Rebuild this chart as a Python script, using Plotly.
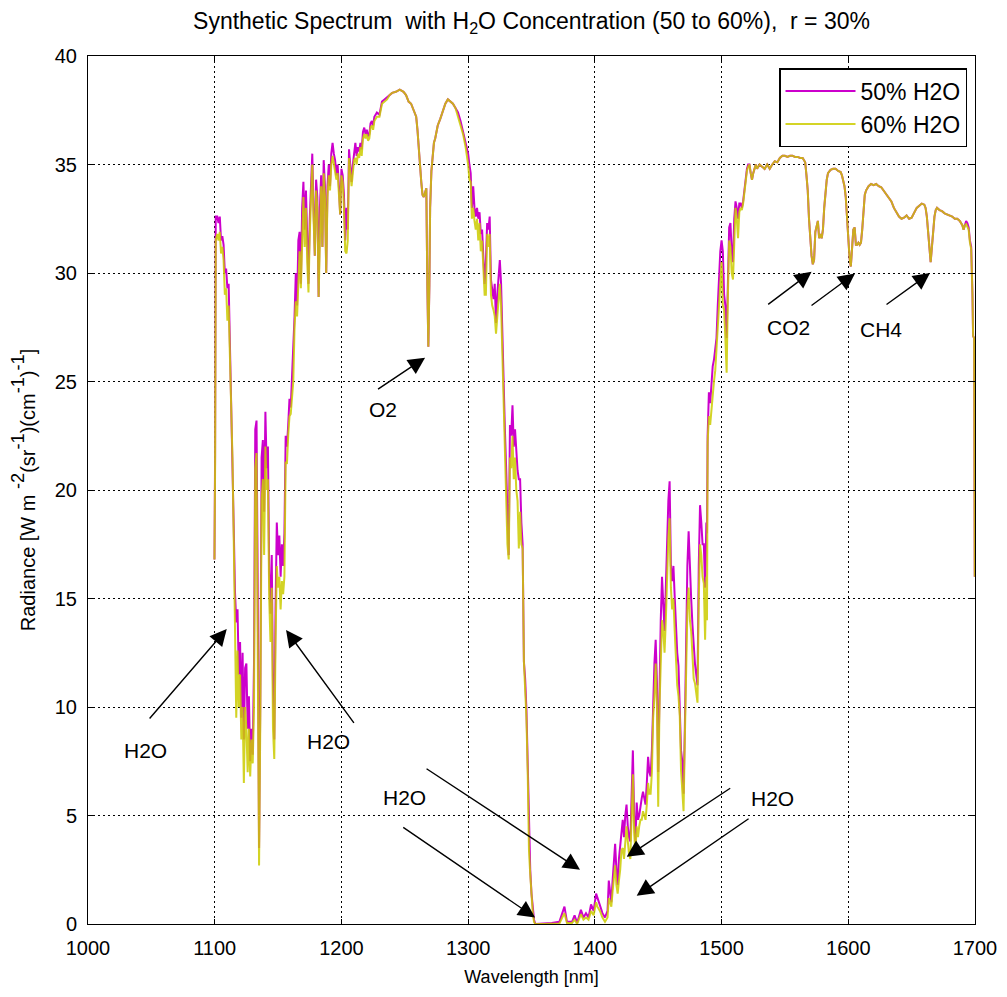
import plotly.graph_objects as go

# wavelength [nm]
wl = [
    1099.8, 1100.3, 1100.8, 1102, 1103, 1104, 1105, 1106, 1107, 1108,
    1109, 1110, 1111, 1112, 1113, 1114, 1115, 1116, 1117, 1118,
    1119, 1120, 1121, 1122, 1123, 1124, 1125, 1126, 1127, 1128,
    1129, 1130, 1131, 1132, 1133, 1134, 1135, 1136, 1137, 1138,
    1139, 1140, 1141, 1142, 1143, 1144, 1145, 1146, 1147, 1148,
    1149, 1150, 1151, 1152, 1153, 1154, 1155, 1156, 1157, 1158,
    1159, 1160, 1161, 1162, 1163, 1164, 1165, 1166, 1167, 1168,
    1169, 1170, 1171, 1172, 1173, 1174, 1175, 1176, 1177, 1178,
    1179, 1180, 1181, 1182, 1183, 1184, 1185, 1186, 1187, 1188,
    1189, 1190, 1191, 1192, 1193, 1194, 1195, 1196, 1197, 1198,
    1199, 1200, 1201, 1202, 1203, 1204, 1205, 1206, 1207, 1208,
    1209, 1210, 1211, 1212, 1213, 1214, 1215, 1216, 1217, 1218,
    1219, 1220, 1221, 1222, 1223, 1224, 1225, 1226, 1228, 1230,
    1232, 1234, 1236, 1238, 1240, 1243, 1246, 1249, 1251, 1253,
    1255, 1257, 1259, 1260, 1261, 1262, 1263, 1264, 1265, 1266,
    1267, 1267.8, 1268.6, 1269.4, 1270, 1271, 1272, 1273, 1274, 1276,
    1278, 1280, 1282, 1284, 1286, 1288, 1290, 1292, 1294, 1296,
    1298, 1300, 1301, 1302, 1303, 1304, 1305, 1306, 1307, 1308,
    1309, 1310, 1311, 1312, 1313, 1314, 1315, 1316, 1317, 1318,
    1319, 1320, 1321, 1322, 1323, 1324, 1325, 1326, 1327, 1328,
    1329, 1330, 1331, 1332, 1333, 1334, 1335, 1336, 1337, 1338,
    1339, 1340, 1341, 1342, 1343, 1344, 1345, 1346, 1347, 1348,
    1349, 1350, 1351, 1352, 1353, 1360, 1366, 1372, 1376, 1378,
    1382, 1384, 1386, 1389, 1391, 1393, 1395, 1397, 1399, 1401,
    1402, 1404, 1406, 1408, 1410, 1411, 1412, 1413, 1414, 1415,
    1416, 1417, 1418, 1419, 1420, 1421, 1422, 1423, 1424, 1425,
    1426, 1427, 1428, 1429, 1430, 1431, 1432, 1433, 1434, 1435,
    1436, 1437, 1438, 1439, 1440, 1441, 1442, 1443, 1444, 1445,
    1446, 1447, 1448, 1449, 1450, 1451, 1452, 1453, 1454, 1455,
    1456, 1457, 1458, 1459, 1460, 1461, 1462, 1463, 1464, 1465,
    1466, 1467, 1468, 1469, 1470, 1471, 1472, 1473, 1474, 1475,
    1476, 1477, 1478, 1479, 1480, 1481, 1482, 1483, 1484, 1485,
    1486, 1487, 1488, 1488.5, 1489, 1490, 1491, 1492, 1493, 1494,
    1495, 1496, 1497, 1498, 1499, 1500, 1501, 1502, 1503, 1504,
    1505, 1506, 1507, 1508, 1509, 1510, 1511, 1512, 1513, 1514,
    1515, 1516, 1517, 1518, 1519, 1520, 1521, 1522, 1523, 1524,
    1525, 1526, 1527, 1528, 1529, 1530, 1532, 1534, 1536, 1538,
    1540, 1542, 1544, 1546, 1548, 1550, 1552, 1554, 1556, 1558,
    1560, 1562, 1564, 1566, 1567, 1568, 1569, 1570, 1571, 1572,
    1573, 1574, 1575, 1576, 1577, 1578, 1579, 1580, 1581, 1582,
    1583, 1584, 1586, 1588, 1590, 1592, 1594, 1595, 1596, 1597,
    1598, 1599, 1600, 1601, 1602, 1603, 1604, 1605, 1606, 1607,
    1608, 1609, 1610, 1611, 1612, 1613, 1614, 1616, 1618, 1620,
    1622, 1624, 1626, 1628, 1630, 1632, 1634, 1636, 1638, 1640,
    1642, 1644, 1646, 1648, 1650, 1652, 1654, 1656, 1658, 1660,
    1661, 1662, 1663, 1664, 1665, 1666, 1667, 1668, 1669, 1670,
    1672, 1674, 1676, 1678, 1680, 1682, 1684, 1686, 1688, 1690,
    1691, 1692, 1693, 1694, 1695, 1696, 1697, 1698, 1698.5, 1699.3, 1699.8,
]

# radiance, 50% H2O
rad_50 = [
    16.8, 21.6, 32.6, 32.6, 32.3, 32.6, 31.5, 31.7, 31.3, 30.0,
    30.2, 29.3, 29.5, 27.0, 24.7, 22.0, 18.3, 15.3, 13.9, 14.5,
    11.5, 13.0, 9.5, 12.5, 8.5, 11.8, 12.0, 9.0, 10.5, 7.5,
    9.0, 7.8, 12.0, 22.8, 23.2, 15.0, 3.5, 10.5, 21.5, 22.3,
    19.0, 23.6, 21.0, 22.0, 16.2, 14.3, 17.0, 11.0, 8.5, 14.5,
    18.5, 17.0, 17.9, 16.0, 17.5, 16.5, 18.0, 22.5, 22.0, 23.0,
    24.2, 23.8, 25.2, 26.0, 28.0, 30.0, 28.5, 31.5, 31.9, 29.5,
    33.0, 34.2, 32.0, 33.8, 31.0, 29.5, 32.5, 34.0, 35.5, 33.0,
    30.8, 34.3, 33.5, 28.9, 33.0, 34.5, 31.2, 35.2, 34.0, 30.0,
    34.0, 35.0, 34.0, 35.5, 36.0, 35.5, 35.2, 34.5, 35.0, 34.0,
    32.7, 34.8, 34.5, 33.6, 31.5, 33.0, 32.0, 35.7, 35.0, 34.2,
    35.0, 35.6, 36.0, 35.4, 35.8, 35.6, 36.0, 35.7, 36.5, 36.7,
    36.4, 36.6, 36.3, 36.4, 36.9, 37.0, 36.8, 37.2, 37.4, 37.3,
    37.9, 38.0, 38.1, 38.2, 38.3, 38.35, 38.45, 38.35, 38.2, 37.9,
    37.8, 37.5, 37.2, 36.6, 35.7, 34.9, 34.2, 33.6, 33.5, 33.7,
    33.9, 29.4, 26.6, 29.4, 33.0, 34.7, 35.6, 36.0, 36.2, 36.8,
    37.1, 37.5, 37.8, 38.0, 37.9, 37.8, 37.6, 37.4, 37.0, 36.5,
    36.0, 35.5, 35.0, 34.6, 33.0, 34.0, 33.0, 32.6, 33.0, 32.5,
    32.8, 31.8, 32.0, 30.7, 29.5, 30.5, 32.3, 32.0, 32.6, 29.7,
    29.2, 28.8, 29.5, 27.7, 29.0, 30.0, 30.6, 29.5, 27.0, 25.0,
    22.8, 21.0, 18.5, 17.0, 23.0, 22.5, 23.9, 22.0, 22.8, 21.5,
    20.9, 20.5, 20.5, 18.5, 17.5, 12.1, 11.3, 9.9, 7.2, 3.6,
    2.5, 1.4, 0.6, 0.2, 0.0, 0.02, 0.05, 0.1, 0.8, 0.1,
    0.1, 0.4, 0.05, 0.65, 0.3, 0.5, 0.3, 0.9, 0.6, 1.4,
    1.2, 0.9, 0.5, 0.3, 0.6, 2.0, 1.5, 1.0, 2.0, 3.2,
    3.7, 2.5, 1.8, 3.0, 3.5, 4.2, 4.8, 4.0, 5.0, 5.5,
    4.5, 4.0, 3.8, 6.0, 8.0, 5.0, 3.8, 5.6, 4.8, 5.0,
    5.5, 5.8, 6.1, 5.8, 5.5, 6.5, 7.7, 7.0, 6.8, 8.0,
    10.6, 12.0, 13.1, 11.1, 7.0, 11.1, 14.0, 16.0, 15.0, 13.5,
    15.5, 17.7, 19.5, 20.4, 16.5, 15.8, 16.5, 15.1, 13.5, 12.5,
    11.9, 10.0, 8.0, 7.5, 6.0, 9.0, 14.0, 16.5, 18.1, 16.0,
    15.0, 13.8, 12.6, 12.0, 11.5, 11.0, 16.5, 19.3, 18.5, 17.5,
    17.5, 15.5, 18.5, 18.0, 22.5, 24.5, 24.0, 25.0, 25.7, 26.0,
    26.5, 27.0, 28.5, 30.1, 31.0, 31.5, 31.0, 29.0, 28.5, 27.0,
    30.0, 32.1, 32.3, 31.0, 30.5, 32.5, 33.3, 33.0, 32.5, 33.2,
    33.2, 33.0, 33.3, 33.9, 34.4, 34.8, 35.0, 35.0, 34.6, 34.3,
    34.6, 34.8, 35.0, 34.8, 34.9, 35.0, 34.9, 34.8, 35.0, 34.8,
    35.0, 35.15, 35.1, 35.3, 35.4, 35.4, 35.35, 35.4, 35.4, 35.35,
    35.35, 35.3, 35.3, 35.1, 34.5, 33.8, 32.5, 31.6, 30.8, 30.4,
    30.6, 31.9, 32.2, 32.4, 31.6, 31.8, 31.6, 32.0, 33.0, 33.9,
    34.3, 34.6, 34.75, 34.8, 34.8, 34.7, 34.65, 34.5, 34.3, 34.0,
    33.5, 32.5, 31.5, 30.7, 30.3, 31.2, 32.0, 32.1, 31.3, 31.3,
    31.4, 31.3, 31.4, 32.0, 32.8, 33.6, 33.8, 34.0, 34.1, 34.05,
    34.1, 34.0, 33.95, 33.8, 33.6, 33.45, 33.3, 33.0, 32.8, 32.6,
    32.5, 32.55, 32.65, 32.5, 32.55, 32.8, 33.0, 33.1, 33.2, 33.15,
    33.0, 32.6, 32.0, 31.4, 30.5, 31.2, 32.0, 32.6, 32.9, 33.0,
    32.9, 32.85, 32.75, 32.7, 32.65, 32.6, 32.5, 32.5, 32.4, 32.2,
    32.0, 32.2, 32.4, 32.3, 32.1, 31.5, 31.2, 29.0, 27.1, 27.0, 16.0,
]

# radiance, 60% H2O
rad_60 = [
    16.8, 21.0, 31.5, 31.8, 31.5, 31.9, 30.9, 31.2, 30.6, 29.0,
    29.3, 27.8, 28.5, 26.0, 24.5, 21.5, 17.8, 14.5, 9.5, 12.6,
    10.0, 11.5, 8.5, 10.0, 6.5, 10.0, 9.0, 7.0, 9.0, 6.8,
    8.5, 7.4, 10.0, 21.0, 21.7, 12.0, 2.7, 9.5, 19.5, 20.5,
    17.0, 22.0, 20.0, 20.5, 15.0, 13.0, 15.5, 9.0, 7.6, 13.0,
    16.5, 15.5, 16.0, 14.5, 15.8, 15.2, 16.0, 21.3, 21.2, 22.5,
    23.4, 23.5, 24.5, 25.0, 27.5, 28.7, 28.0, 30.0, 31.0, 29.3,
    32.0, 33.5, 31.2, 33.0, 30.5, 29.1, 31.8, 33.5, 35.0, 32.5,
    30.8, 33.8, 33.0, 28.9, 32.5, 34.0, 31.2, 34.6, 33.5, 30.0,
    33.5, 34.5, 33.8, 35.0, 35.4, 35.0, 34.8, 34.3, 34.6, 33.5,
    32.7, 34.5, 34.2, 33.0, 31.0, 30.9, 31.5, 35.3, 34.5, 34.0,
    34.6, 35.2, 35.3, 35.0, 35.5, 35.3, 35.8, 35.4, 36.2, 36.4,
    36.2, 36.4, 36.1, 36.2, 36.7, 36.8, 36.6, 37.0, 37.2, 37.2,
    37.8, 37.9, 38.0, 38.2, 38.3, 38.35, 38.45, 38.35, 38.2, 37.9,
    37.8, 37.5, 37.2, 36.6, 35.7, 34.9, 34.2, 33.6, 33.5, 33.7,
    33.9, 29.4, 26.6, 29.4, 33.0, 34.7, 35.6, 36.0, 36.2, 36.8,
    37.1, 37.5, 37.8, 38.0, 37.9, 37.8, 37.6, 37.2, 36.8, 36.4,
    35.8, 35.0, 34.3, 34.2, 32.5, 33.0, 32.4, 32.0, 32.5, 31.5,
    32.3, 31.0, 31.5, 30.2, 29.0, 29.0, 31.8, 31.2, 31.8, 29.0,
    28.5, 28.3, 28.0, 27.2, 28.0, 28.5, 29.5, 28.5, 26.5, 24.5,
    22.2, 20.0, 17.5, 16.8, 21.5, 21.0, 22.5, 20.5, 21.5, 20.0,
    19.5, 17.3, 19.0, 17.5, 17.3, 12.1, 11.0, 9.5, 7.0, 3.4,
    2.3, 1.3, 0.5, 0.1, 0.0, 0.0, 0.0, 0.02, 0.5, 0.05,
    0.05, 0.2, 0.0, 0.45, 0.2, 0.3, 0.2, 0.6, 0.4, 1.0,
    0.8, 0.6, 0.3, 0.1, 0.3, 1.2, 1.0, 0.8, 1.5, 2.0,
    2.7, 1.8, 1.4, 2.0, 2.5, 3.4, 3.5, 3.0, 4.0, 4.5,
    3.8, 3.2, 3.0, 5.0, 6.9, 4.2, 3.3, 4.5, 4.0, 4.5,
    4.8, 4.8, 5.2, 5.0, 4.8, 5.5, 6.5, 6.0, 6.0, 7.0,
    9.5, 10.5, 12.0, 10.0, 5.4, 10.0, 12.5, 14.0, 13.5, 12.5,
    14.0, 16.5, 17.8, 18.7, 15.5, 14.5, 15.0, 13.5, 12.0, 11.0,
    10.5, 9.6, 7.1, 6.0, 5.2, 8.5, 12.0, 14.5, 15.5, 14.0,
    13.5, 12.5, 11.3, 11.1, 10.5, 10.2, 15.0, 17.5, 17.0, 16.0,
    15.7, 13.1, 16.0, 14.0, 22.2, 23.4, 23.0, 23.8, 24.5, 25.0,
    25.5, 26.5, 27.5, 28.3, 29.5, 30.5, 28.5, 28.3, 27.0, 25.4,
    29.0, 31.5, 31.2, 30.0, 29.7, 32.0, 33.0, 32.5, 31.6, 32.8,
    33.0, 32.9, 33.2, 33.7, 34.2, 34.7, 34.9, 35.0, 34.6, 34.3,
    34.6, 34.8, 35.0, 34.8, 34.9, 35.0, 34.9, 34.8, 35.0, 34.8,
    35.0, 35.15, 35.1, 35.3, 35.4, 35.4, 35.35, 35.4, 35.4, 35.35,
    35.35, 35.3, 35.3, 35.1, 34.5, 33.8, 32.5, 31.6, 30.8, 30.4,
    30.6, 31.9, 32.2, 32.4, 31.6, 31.8, 31.6, 32.0, 33.0, 33.9,
    34.3, 34.6, 34.75, 34.8, 34.8, 34.7, 34.65, 34.5, 34.3, 34.0,
    33.5, 32.5, 31.5, 30.7, 30.3, 31.2, 32.0, 32.1, 31.3, 31.3,
    31.4, 31.3, 31.4, 32.0, 32.8, 33.6, 33.8, 34.0, 34.1, 34.05,
    34.1, 34.0, 33.95, 33.8, 33.6, 33.45, 33.3, 33.0, 32.8, 32.6,
    32.5, 32.55, 32.65, 32.5, 32.55, 32.8, 33.0, 33.1, 33.2, 33.15,
    33.0, 32.6, 32.0, 31.4, 30.5, 31.2, 32.0, 32.6, 32.9, 33.0,
    32.9, 32.85, 32.75, 32.7, 32.65, 32.6, 32.5, 32.5, 32.4, 32.2,
    32.0, 32.2, 32.25, 32.15, 32.0, 31.4, 31.1, 29.0, 27.1, 27.0, 16.0,
]

series_names = ["50% H2O", "60% H2O"]

# text labels: (text, wavelength, radiance)
labels = [
    ("O2", 1233, 23.7),
    ("H2O", 1045, 8.0),
    ("H2O", 1190, 8.4),
    ("H2O", 1250, 5.85),
    ("H2O", 1540, 5.8),
    ("CO2", 1553, 27.5),
    ("CH4", 1626, 27.4),
]

# arrows: (tail wl, tail rad, head wl, head rad)
arrows = [
    (1227.7, 24.6, 1266.0, 26.1),
    (1047.6, 9.4, 1109.5, 13.6),
    (1210.7, 9.2, 1156.3, 13.55),
    (1266.0, 7.2, 1388.3, 2.5),
    (1247.6, 4.5, 1352.8, 0.3),
    (1508.0, 6.3, 1425.1, 3.1),
    (1522.5, 4.9, 1433.0, 1.3),
    (1535.6, 28.5, 1571.0, 30.06),
    (1569.8, 28.45, 1605.3, 29.98),
    (1629.0, 28.5, 1664.5, 30.0),
]

FONT = "Liberation Sans, Arial, sans-serif"

fig = go.Figure()
fig.add_trace(go.Scatter(
    x=wl, y=rad_50, mode="lines", name=series_names[0],
    line=dict(color="#CC00CC", width=2),
))
fig.add_trace(go.Scatter(
    x=wl, y=rad_60, mode="lines", name=series_names[1],
    line=dict(color="#CCCC00", width=2), opacity=0.85,
))

annotations = []
for t, x, y in labels:
    annotations.append(dict(x=x, y=y, xref="x", yref="y", text=t, showarrow=False,
                            font=dict(family=FONT, size=21, color="black")))
for tx, ty, hx, hy in arrows:
    annotations.append(dict(x=hx, y=hy, ax=tx, ay=ty, xref="x", yref="y",
                            axref="x", ayref="y", text="", showarrow=True,
                            arrowhead=2, arrowsize=2.4, arrowwidth=1.4,
                            arrowcolor="black", standoff=0, startstandoff=0))

axis_common = dict(
    showline=True, linecolor="black", linewidth=1, mirror="ticks",
    ticks="inside", ticklen=5, tickcolor="black",
    showgrid=True, gridcolor="black", gridwidth=1, griddash="2px,3px",
    zeroline=False, tickfont=dict(family=FONT, size=20, color="black"),
    ticklabelstandoff=6,
)

sup = '<span style="font-size:26px"><sup>{}</sup></span>'
ytitle = ("Radiance [W m " + sup.format("-2") + "(sr" + sup.format("-1") + ")(cm"
          + sup.format("-1") + ")" + sup.format("-1") + "]")

fig.update_layout(
    width=1007, height=997,
    margin=dict(l=80, r=40, t=48, b=81),
    paper_bgcolor="white", plot_bgcolor="white",
    title=dict(
        text="Synthetic Spectrum&nbsp;&nbsp;with H<sub>2</sub>O Concentration (50 to 60%),&nbsp;&nbsp;r = 30%",
        x=0.5, xref="paper", xanchor="center",
        y=1 - 5 / 997, yref="container", yanchor="top", pad=dict(t=0, b=0),
        font=dict(family=FONT, size=23, color="black"),
    ),
    xaxis=dict(axis_common, range=[1000, 1700], dtick=100, tick0=1000,
               title=dict(text="Wavelength [nm]", standoff=12,
                          font=dict(family=FONT, size=18, color="black"))),
    yaxis=dict(axis_common, range=[0, 40], dtick=5, tick0=0,
               title=dict(text=ytitle, standoff=15,
                          font=dict(family=FONT, size=20, color="black"))),
    legend=dict(
        x=0.991, y=0.986, xanchor="right", yanchor="top",
        bgcolor="white", bordercolor="black", borderwidth=1.5,
        font=dict(family=FONT, size=23, color="black"),
        itemwidth=70, tracegroupgap=0,
    ),
    annotations=annotations,
    showlegend=True,
)

fig.write_html("out.html")
